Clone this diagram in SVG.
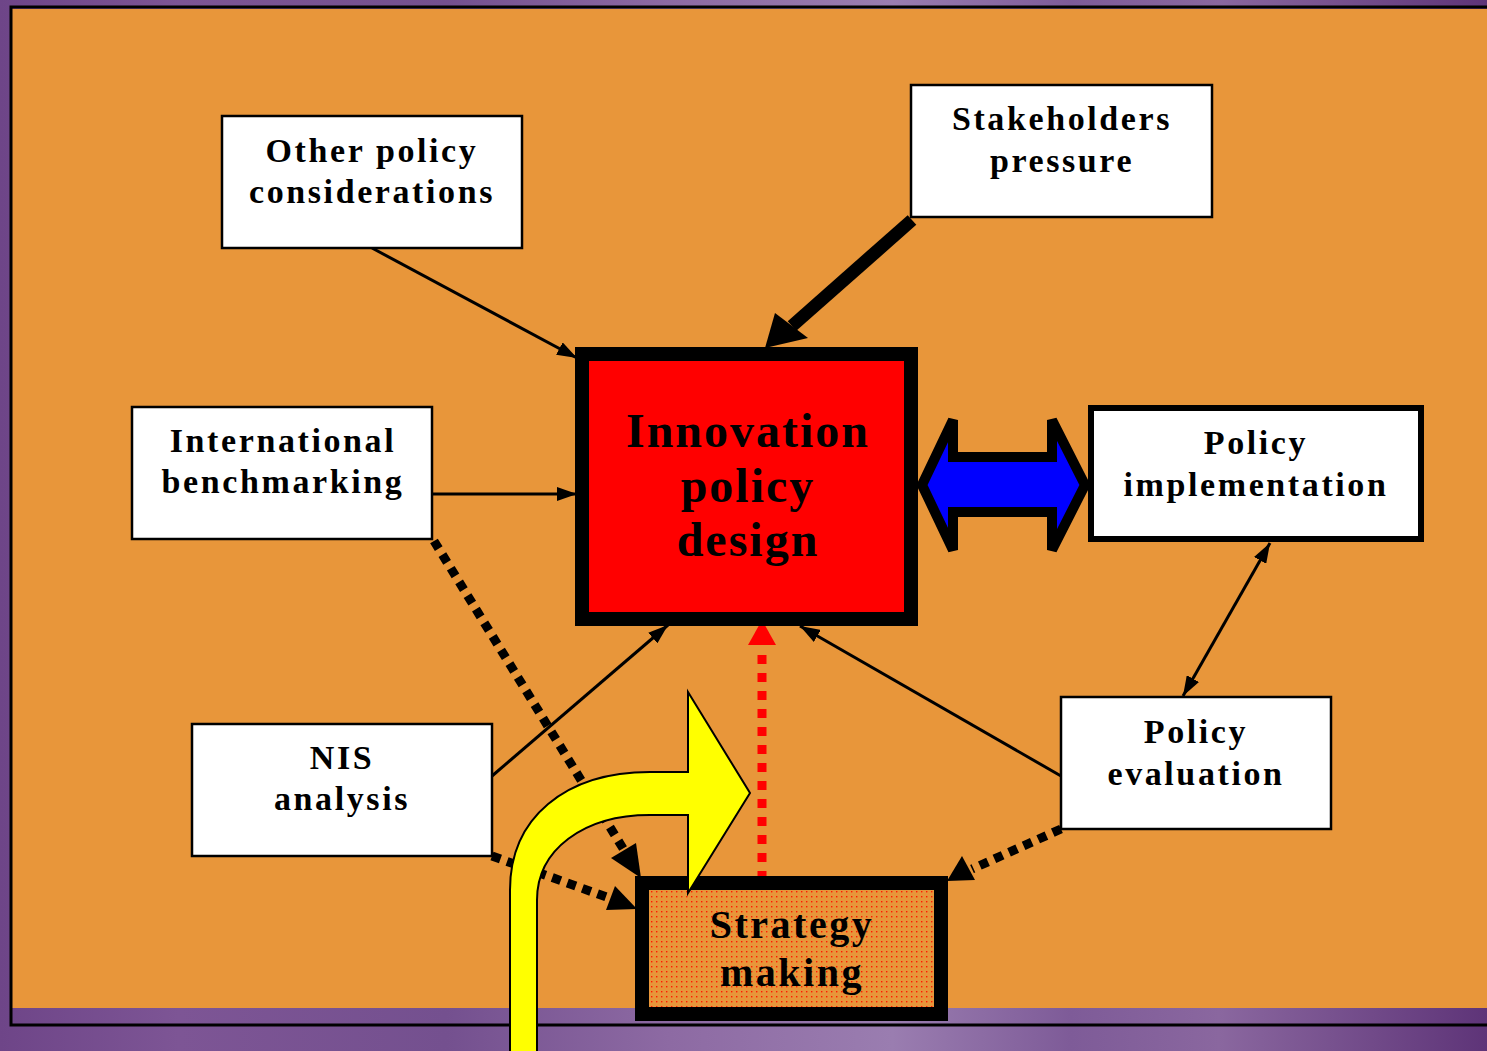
<svg xmlns="http://www.w3.org/2000/svg" width="1487" height="1051" viewBox="0 0 1487 1051">
  <defs>
    <linearGradient id="bgPurple" x1="0" y1="0" x2="1" y2="0">
      <stop offset="0" stop-color="#6e4588"/>
      <stop offset="0.12" stop-color="#7d5595"/>
      <stop offset="0.3" stop-color="#74508f"/>
      <stop offset="0.45" stop-color="#8d6aa3"/>
      <stop offset="0.6" stop-color="#9a7db0"/>
      <stop offset="0.72" stop-color="#7e5b98"/>
      <stop offset="0.82" stop-color="#8a679f"/>
      <stop offset="1" stop-color="#5e3478"/>
    </linearGradient>
    <pattern id="dots" x="0" y="0" width="5" height="5" patternUnits="userSpaceOnUse">
      <rect width="5" height="5" fill="#e8963a"/>
      <rect x="1" y="1" width="1.4" height="1.4" fill="#ff1a00"/>
    </pattern>
    <marker id="head" viewBox="0 0 20 14" refX="20" refY="7" markerWidth="20" markerHeight="14" markerUnits="userSpaceOnUse" orient="auto-start-reverse">
      <path d="M0,0 L20,7 L0,14 Z" fill="#000"/>
    </marker>
  </defs>
  <style>
    .box { fill: #ffffff; stroke: #000; stroke-width: 2.5; }
    .lbl { font-family: "Liberation Serif", "Times New Roman", serif; font-weight: bold; font-size: 34px; letter-spacing: 2.6px; text-anchor: middle; fill: #000; }
    .thin { stroke: #000; stroke-width: 3; fill: none; }
    .dotted { stroke: #000; stroke-width: 9; stroke-dasharray: 9 7; fill: none; }
  </style>

  <!-- slide background and frame -->
  <rect x="0" y="0" width="1487" height="1051" fill="url(#bgPurple)"/>
  <rect x="12" y="9" width="1475" height="999" fill="#e8963a"/>
  <path d="M1487,7 L11,7 L11,1025 L1487,1025" fill="none" stroke="#000" stroke-width="3"/>

  <!-- connectors -->
  <g id="connectors">
    <line class="thin" x1="372" y1="248" x2="577" y2="358" marker-end="url(#head)"/>
    <line class="thin" x1="432" y1="494" x2="577" y2="494" marker-end="url(#head)"/>
    <line class="thin" x1="492" y1="776" x2="668" y2="625" marker-end="url(#head)"/>
    <line class="thin" x1="1061" y1="776" x2="800" y2="626" marker-end="url(#head)"/>
    <line class="thin" x1="1270" y1="543" x2="1183" y2="696" marker-start="url(#head)" marker-end="url(#head)"/>

    <!-- stakeholder pressure: heavy arrow -->
    <line x1="912" y1="220" x2="792" y2="326" stroke="#000" stroke-width="13"/>
    <polygon points="765,348 775,313 808,338" fill="#000"/>

    <!-- dotted flows into strategy making -->
    <line class="dotted" x1="434" y1="541" x2="624" y2="850"/>
    <polygon points="641,878 611,858 636,843" fill="#000"/>
    <line class="dotted" x1="492" y1="856" x2="612" y2="899"/>
    <polygon points="637,909 606,910 615,886" fill="#000"/>
    <line class="dotted" x1="1061" y1="829" x2="972" y2="869"/>
    <polygon points="947,881 962,856 975,880" fill="#000"/>

    <!-- red dotted feedback -->
    <line x1="762" y1="880" x2="762" y2="648" stroke="#ff0000" stroke-width="9" stroke-dasharray="9 9"/>
    <polygon points="762,620 776,645 748,645" fill="#ff0000"/>

    <!-- blue double arrow -->
    <polygon points="922,485 953,420 953,457 1052,457 1052,420 1085,485 1052,550 1052,512 953,512 953,550" fill="#0000ff" stroke="#000" stroke-width="10" stroke-linejoin="miter"/>
  </g>

  <g id="node-other-policy">
    <rect class="box" x="222" y="116" width="300" height="132"/>
    <text class="lbl" x="372" y="162">Other policy</text>
    <text class="lbl" x="372" y="203">considerations</text>
  </g>

  <g id="node-stakeholders">
    <rect class="box" x="911" y="85" width="301" height="132"/>
    <text class="lbl" x="1062" y="130">Stakeholders</text>
    <text class="lbl" x="1062" y="172">pressure</text>
  </g>

  <g id="node-benchmarking">
    <rect class="box" x="132" y="407" width="300" height="132"/>
    <text class="lbl" x="283" y="452">International</text>
    <text class="lbl" x="283" y="493">benchmarking</text>
  </g>

  <g id="node-implementation">
    <rect x="1091" y="408" width="330" height="131" fill="#fff" stroke="#000" stroke-width="6"/>
    <text class="lbl" x="1256" y="454">Policy</text>
    <text class="lbl" x="1256" y="496">implementation</text>
  </g>

  <g id="node-nis">
    <rect class="box" x="192" y="724" width="300" height="132"/>
    <text class="lbl" x="342" y="769">NIS</text>
    <text class="lbl" x="342" y="810">analysis</text>
  </g>

  <g id="node-evaluation">
    <rect class="box" x="1061" y="697" width="270" height="132"/>
    <text class="lbl" x="1196" y="743">Policy</text>
    <text class="lbl" x="1196" y="785">evaluation</text>
  </g>

  <g id="node-innovation">
    <rect x="582" y="354" width="329" height="265" fill="#ff0000" stroke="#000" stroke-width="14"/>
    <text class="lbl" x="748" y="447" style="font-size:48px;letter-spacing:2px">Innovation</text>
    <text class="lbl" x="748" y="502" style="font-size:48px;letter-spacing:2px">policy</text>
    <text class="lbl" x="748" y="556" style="font-size:48px;letter-spacing:2px">design</text>
  </g>

  <g id="node-strategy">
    <rect x="642" y="883" width="299" height="131" fill="url(#dots)" stroke="#000" stroke-width="14"/>
    <text class="lbl" x="792" y="938" style="font-size:40px;letter-spacing:2.5px">Strategy</text>
    <text class="lbl" x="792" y="986" style="font-size:40px;letter-spacing:2.5px">making</text>
  </g>

  <!-- yellow bent arrow rising from below -->
  <g id="bent-arrow">
    <path d="M510,1051 L510,890 C510,818 565,772 650,772 L688,772 L688,692 L750,793 L688,893 L688,815 L650,815 C583,815 537,850 537,900 L537,1051" fill="#ffff00" stroke="#000" stroke-width="2" stroke-linejoin="miter"/>
  </g>
</svg>
